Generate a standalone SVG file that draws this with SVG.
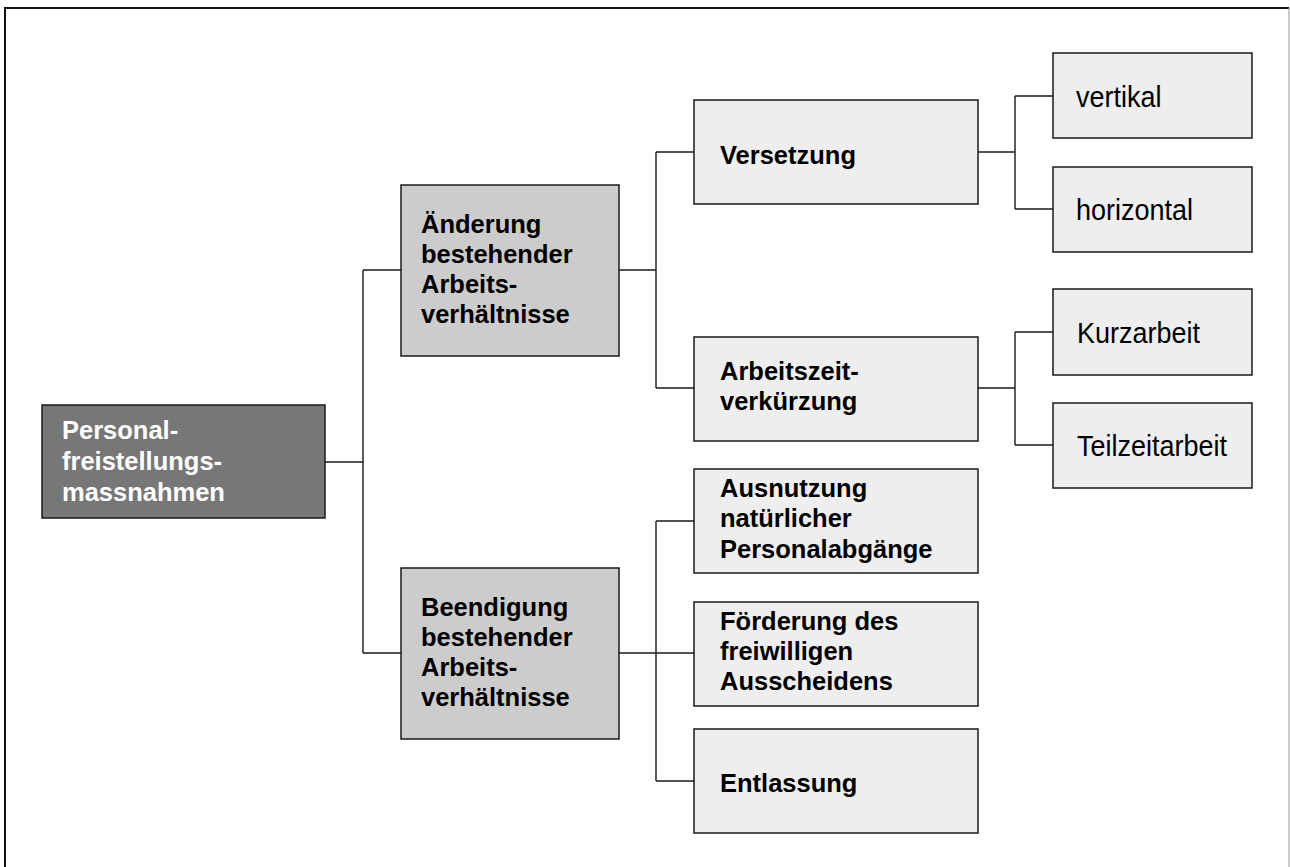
<svg xmlns="http://www.w3.org/2000/svg" width="1290" height="867" viewBox="0 0 1290 867">
  <style>
    .box { stroke: #1a1a1a; stroke-width: 1.5; }
    .root { fill: #777777; }
    .mid { fill: #cccccc; }
    .leaf { fill: #eeeeee; }
    .t { font-family: "Liberation Sans", Arial, sans-serif; font-size: 30px; fill: #000; }
    .b { font-weight: bold; font-size: 26.5px; }
    .w { fill: #ffffff; }
    .links path { fill: none; stroke: #1a1a1a; stroke-width: 1.4; }
  </style>

  <!-- page frame -->
  <rect x="0" y="0" width="1290" height="867" fill="#ffffff"/>
  <path d="M5 867 V8 H1289" fill="none" stroke="#111" stroke-width="2"/>
  <path d="M1289 8 V867" fill="none" stroke="#999" stroke-width="1"/>

  <!-- connectors -->
  <g class="links" id="connectors">
    <path d="M325 462 H363 M363 270 V653 M363 270 H401 M363 653 H401"/>
    <path d="M619 270 H656 M656 152 V388 M656 152 H694 M656 388 H694"/>
    <path d="M619 653 H694 M656 521 V781 M656 521 H694 M656 781 H694"/>
    <path d="M978 152 H1015 M1015 96 V209 M1015 96 H1053 M1015 209 H1053"/>
    <path d="M978 388 H1015 M1015 332 V445 M1015 332 H1053 M1015 445 H1053"/>
  </g>

  <!-- root; labels are set slightly condensed by a horizontal scale -->
  <g id="n-personalfreistellung">
    <rect class="box root" x="42" y="405" width="283" height="113"/>
    <g transform="translate(62 0) scale(0.962 1)">
      <text class="t b w" x="0" y="439">Personal-</text>
      <text class="t b w" x="0" y="470">freistellungs-</text>
      <text class="t b w" x="0" y="501">massnahmen</text>
    </g>
  </g>

  <!-- level 1 -->
  <g id="n-aenderung">
    <rect class="box mid" x="401" y="185" width="218" height="171"/>
    <g transform="translate(421 0) scale(0.962 1)">
      <text class="t b" x="0" y="233">Änderung</text>
      <text class="t b" x="0" y="263">bestehender</text>
      <text class="t b" x="0" y="293">Arbeits-</text>
      <text class="t b" x="0" y="323">verhältnisse</text>
    </g>
  </g>
  <g id="n-beendigung">
    <rect class="box mid" x="401" y="568" width="218" height="171"/>
    <g transform="translate(421 0) scale(0.962 1)">
      <text class="t b" x="0" y="616">Beendigung</text>
      <text class="t b" x="0" y="646">bestehender</text>
      <text class="t b" x="0" y="676">Arbeits-</text>
      <text class="t b" x="0" y="706">verhältnisse</text>
    </g>
  </g>

  <!-- level 2 -->
  <g id="n-versetzung">
    <rect class="box leaf" x="694" y="100" width="284" height="104"/>
    <g transform="translate(720 0) scale(0.962 1)">
      <text class="t b" x="0" y="164">Versetzung</text>
    </g>
  </g>
  <g id="n-arbeitszeitverkuerzung">
    <rect class="box leaf" x="694" y="337" width="284" height="104"/>
    <g transform="translate(720 0) scale(0.962 1)">
      <text class="t b" x="0" y="380">Arbeitszeit-</text>
      <text class="t b" x="0" y="410">verkürzung</text>
    </g>
  </g>
  <g id="n-ausnutzung">
    <rect class="box leaf" x="694" y="469" width="284" height="104"/>
    <g transform="translate(720 0) scale(0.962 1)">
      <text class="t b" x="0" y="497">Ausnutzung</text>
      <text class="t b" x="0" y="527">natürlicher</text>
      <text class="t b" x="0" y="558">Personalabgänge</text>
    </g>
  </g>
  <g id="n-foerderung">
    <rect class="box leaf" x="694" y="602" width="284" height="104"/>
    <g transform="translate(720 0) scale(0.962 1)">
      <text class="t b" x="0" y="630">Förderung des</text>
      <text class="t b" x="0" y="660">freiwilligen</text>
      <text class="t b" x="0" y="690">Ausscheidens</text>
    </g>
  </g>
  <g id="n-entlassung">
    <rect class="box leaf" x="694" y="729" width="284" height="104"/>
    <g transform="translate(720 0) scale(0.962 1)">
      <text class="t b" x="0" y="792">Entlassung</text>
    </g>
  </g>

  <!-- level 3 -->
  <g id="n-vertikal">
    <rect class="box leaf" x="1053" y="53" width="199" height="85"/>
    <g transform="translate(1076 0) scale(0.9 1)">
      <text class="t" x="0" y="107">vertikal</text>
    </g>
  </g>
  <g id="n-horizontal">
    <rect class="box leaf" x="1053" y="167" width="199" height="85"/>
    <g transform="translate(1076 0) scale(0.9 1)">
      <text class="t" x="0" y="220">horizontal</text>
    </g>
  </g>
  <g id="n-kurzarbeit">
    <rect class="box leaf" x="1053" y="289" width="199" height="86"/>
    <g transform="translate(1077 0) scale(0.9 1)">
      <text class="t" x="0" y="343">Kurzarbeit</text>
    </g>
  </g>
  <g id="n-teilzeitarbeit">
    <rect class="box leaf" x="1053" y="403" width="199" height="85"/>
    <g transform="translate(1077 0) scale(0.9 1)">
      <text class="t" x="0" y="456">Teilzeitarbeit</text>
    </g>
  </g>
</svg>
